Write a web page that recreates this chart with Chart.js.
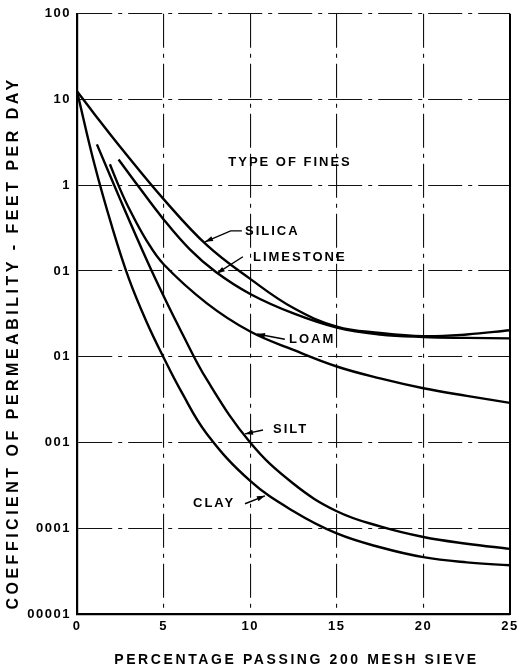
<!DOCTYPE html>
<html><head><meta charset="utf-8">
<script src="https://cdn.jsdelivr.net/npm/chart.js@4.4.1/dist/chart.umd.min.js"></script>
<style>html,body{margin:0;padding:0;background:#fff}#c{display:block}</style>
</head><body>
<canvas id="c" width="519" height="670"></canvas>
<script>
// ---- data ----
const xTickValues = [0, 5, 10, 15, 20, 25];
const yTickValues = [100, 10, 1, 0.1, 0.01, 0.001, 0.0001, 0.00001];
const yTickLabels = ['100', '10', '1', '01', '01', '001', '0001', '00001'];
const seriesNames = ['SILICA', 'LIMESTONE', 'LOAM', 'SILT', 'CLAY'];

const silicaX = [0, 1, 2.5, 5, 7.5, 10, 12.5, 15, 17.5, 20, 22.5, 25];
const silicaY = [12.5, 6.8, 2.8, 0.69, 0.2, 0.081, 0.037, 0.0225, 0.019, 0.0174, 0.0182, 0.0204];

const limestoneX = [2.4, 3.5, 5, 6.5, 8, 10, 12.5, 15, 17.5, 20, 22.5, 25];
const limestoneY = [2.0, 1.0, 0.40, 0.18, 0.098, 0.054, 0.032, 0.0219, 0.0182, 0.017, 0.0166, 0.0164];

const loamX = [1.9, 2.5, 3, 4, 5, 7.5, 10, 12.5, 15, 17.5, 20, 22.5, 25];
const loamY = [1.76, 0.89, 0.54, 0.23, 0.12, 0.042, 0.0197, 0.012, 0.0077, 0.0056, 0.0043, 0.0035, 0.0029];

const siltX = [1.15, 2.5, 4, 5, 6, 7.5, 10, 12.5, 15, 17.5, 20, 22.5, 25];
const siltY = [3.0, 0.68, 0.138, 0.051, 0.02, 0.0054, 0.001, 0.00033, 0.000158, 0.000105, 0.000079, 0.000066, 0.0000575];

const clayX = [0, 1, 2, 3, 4, 5, 6, 7.5, 10, 12.5, 15, 17.5, 20, 22.5, 25];
const clayY = [12.5, 1.78, 0.34, 0.081, 0.026, 0.0098, 0.004, 0.00126, 0.000357, 0.000158, 0.000087, 0.00006, 0.000046, 0.00004, 0.000037];

const xTitle = 'PERCENTAGE PASSING 200 MESH SIEVE';
const yTitle = 'COEFFICIENT OF PERMEABILITY - FEET PER DAY';
const legendTitle = 'TYPE OF FINES';

// ---- build ----
const seriesXs = [silicaX, limestoneX, loamX, siltX, clayX];
const seriesYs = [silicaY, limestoneY, loamY, siltY, clayY];
const datasets = seriesNames.map((n, i) => ({
  label: n,
  data: seriesXs[i].map((x, j) => ({x: x, y: seriesYs[i][j]})),
  borderColor: '#000',
  borderWidth: 2.4,
  pointRadius: 0,
  fill: false,
  tension: 0.4
}));

// annotation placement (data units) for the curve labels
const notes = [
  {text: legendTitle, x: 12.3, y: 1.86, align: 'center'},
  {text: seriesNames[0], x: 9.70, y: 0.286, align: 'left', path: [[9.52, 0.294], [8.87, 0.294], [7.39, 0.219]]},
  {text: seriesNames[1], x: 10.16, y: 0.1426, align: 'left', path: [[9.58, 0.1466], [8.07, 0.0938]]},
  {text: seriesNames[2], x: 12.24, y: 0.0159, align: 'left', path: [[12.0, 0.0160], [10.39, 0.01845]]},
  {text: seriesNames[3], x: 11.32, y: 0.00144, align: 'left', path: [[10.74, 0.0014], [9.7, 0.00126]]},
  {text: seriesNames[4], x: 6.70, y: 0.000193, align: 'left', path: [[9.7, 0.000193], [10.85, 0.000239]]}
];

const FONT = '"Liberation Sans", Arial, sans-serif';

const decor = {
  id: 'decor',
  beforeDraw(chart) {
    chart.ctx.letterSpacing = '1.5px';
  },
  afterDatasetsDraw(chart) {
    const ctx = chart.ctx, xs = chart.scales.x, ys = chart.scales.y;
    const ca = chart.chartArea;
    ctx.save();
    // solid right frame line
    ctx.strokeStyle = '#000';
    ctx.lineWidth = 2;
    ctx.beginPath();
    ctx.moveTo(ca.right, ca.top);
    ctx.lineTo(ca.right, ca.bottom + 1);
    ctx.stroke();

    ctx.fillStyle = '#000';
    ctx.font = 'bold 13px ' + FONT;
    ctx.letterSpacing = '2px';
    ctx.textBaseline = 'middle';
    notes.forEach(n => {
      const px = xs.getPixelForValue(n.x), py = ys.getPixelForValue(n.y);
      ctx.textAlign = n.align;
      ctx.fillText(n.text, px, py);
      if (n.path) {
        const pts = n.path.map(p => [xs.getPixelForValue(p[0]), ys.getPixelForValue(p[1])]);
        ctx.lineWidth = 1.4;
        ctx.beginPath();
        ctx.moveTo(pts[0][0], pts[0][1]);
        for (let k = 1; k < pts.length; k++) ctx.lineTo(pts[k][0], pts[k][1]);
        ctx.stroke();
        const a = pts[pts.length - 1], b = pts[pts.length - 2];
        const ang = Math.atan2(a[1] - b[1], a[0] - b[0]);
        const L = 8, W = 2.6;
        ctx.beginPath();
        ctx.moveTo(a[0], a[1]);
        ctx.lineTo(a[0] - L * Math.cos(ang) + W * Math.sin(ang), a[1] - L * Math.sin(ang) - W * Math.cos(ang));
        ctx.lineTo(a[0] - L * Math.cos(ang) - W * Math.sin(ang), a[1] - L * Math.sin(ang) + W * Math.cos(ang));
        ctx.closePath();
        ctx.fill();
      }
    });
    // axis titles
    ctx.textAlign = 'center';
    ctx.font = 'bold 14px ' + FONT;
    ctx.letterSpacing = '2.6px';
    ctx.fillText(xTitle, (ca.left + ca.right) / 2 + 3, 660);
    ctx.save();
    ctx.translate(14, 343);
    ctx.rotate(-Math.PI / 2);
    ctx.font = 'bold 16px ' + FONT;
    ctx.letterSpacing = '3.5px';
    ctx.fillText(yTitle, 0, 0);
    ctx.restore();
    ctx.restore();
  }
};

new Chart(document.getElementById('c'), {
  type: 'line',
  data: {datasets: datasets},
  options: {
    responsive: false,
    animation: false,
    layout: {padding: {left: 0, right: 9, top: 11, bottom: 0}},
    plugins: {legend: {display: false}, tooltip: {enabled: false}},
    scales: {
      x: {
        type: 'linear', min: 0, max: 25,
        afterBuildTicks: s => { s.ticks = xTickValues.map(v => ({value: v})); },
        afterFit: s => { s.height = 56; s.paddingRight = 0; s.paddingLeft = 0; },
        ticks: {color: '#000', font: {family: FONT, size: 13, weight: 'bold'}, padding: 5, maxRotation: 0},
        grid: {color: '#111', lineWidth: 1.1, drawTicks: false},
        border: {display: true, color: '#000', width: 2.2, dash: [34, 6, 4, 6]}
      },
      y: {
        type: 'logarithmic', min: 0.00001, max: 100,
        afterBuildTicks: s => { s.ticks = yTickValues.map(v => ({value: v})); },
        afterFit: s => { s.width = 77; },
        ticks: {
          color: '#000', font: {family: FONT, size: 13, weight: 'bold'}, padding: 6,
          callback: v => { const i = yTickValues.findIndex(t => Math.abs(Math.log10(t) - Math.log10(v)) < 1e-6); return i >= 0 ? yTickLabels[i] : ''; }
        },
        grid: {color: '#111', lineWidth: 1.1, drawTicks: false},
        border: {display: true, color: '#000', width: 2.2, dash: [34, 6, 4, 6]}
      }
    }
  },
  plugins: [decor]
});
</script>
</body></html>
